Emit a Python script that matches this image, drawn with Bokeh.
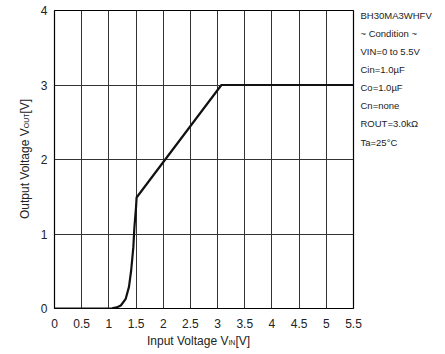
from bokeh.plotting import figure
from bokeh.models import Label, FixedTicker, Range1d, Div
from bokeh.layouts import row, column
from bokeh.embed import file_html
from bokeh.resources import INLINE

# ---- data ----
vin = [0, 1.0, 1.06, 1.10, 1.16, 1.22, 1.31, 1.37, 1.41, 1.45, 1.47, 1.50, 1.51, 3.07, 5.5]
vout = [0, 0, 0.003, 0.01, 0.02, 0.04, 0.13, 0.29, 0.51, 0.82, 1.09, 1.36, 1.49, 3.0, 3.0]
x_ticks = [0, 0.5, 1, 1.5, 2, 2.5, 3, 3.5, 4, 4.5, 5, 5.5]
x_tick_labels = ["0", "0.5", "1", "1.5", "2", "2.5", "3", "3.5", "4", "4.5", "5", "5.5"]
y_ticks = [0, 1, 2, 3, 4]
y_tick_labels = ["0", "1", "2", "3", "4"]
notes = ["BH30MA3WHFV", "~ Condition ~", "VIN=0 to 5.5V", "Cin=1.0\u00b5F",
         "Co=1.0\u00b5F", "Cn=none", "ROUT=3.0k\u03a9", "Ta=25\u00b0C"]
x_title = ("Input Voltage V", "IN", "[V]")
y_title = ("Output Voltage V", "OUT", "[V]")

FONT = "Liberation Sans"
TXT = "#222222"
YDIV_W = 36
FIG_W, FIG_H = 445 - YDIV_W, 334

p = figure(width=FIG_W, height=FIG_H, output_backend="svg", toolbar_location=None,
           x_range=Range1d(0, 5.5), y_range=Range1d(0, 4),
           min_border_left=54 - YDIV_W, min_border_right=92, min_border_top=10,
           min_border_bottom=FIG_H - 308)
p.background_fill_color = "white"
p.border_fill_color = "white"
p.outline_line_color = "black"
p.outline_line_width = 1.2

for ax in (p.xaxis[0], p.yaxis[0]):
    ax.axis_line_color = None
    ax.major_tick_line_color = None
    ax.minor_tick_line_color = None
    ax.major_tick_out = 0
    ax.major_tick_in = 0
    ax.major_label_text_font = FONT
    ax.major_label_text_font_size = "12px"
    ax.major_label_text_color = TXT

p.xaxis[0].ticker = FixedTicker(ticks=x_ticks)
p.xaxis[0].major_label_overrides = {t: s for t, s in zip(x_ticks, x_tick_labels)}
p.xaxis[0].major_label_standoff = 10
p.yaxis[0].ticker = FixedTicker(ticks=y_ticks)
p.yaxis[0].major_label_overrides = {t: s for t, s in zip(y_ticks, y_tick_labels)}
p.yaxis[0].major_label_standoff = 7

p.xgrid[0].ticker = FixedTicker(ticks=x_ticks)
p.ygrid[0].ticker = FixedTicker(ticks=y_ticks)
for g in (p.xgrid[0], p.ygrid[0]):
    g.grid_line_color = "#333333"
    g.grid_line_width = 1
    g.grid_line_alpha = 1

p.line(vin, vout, line_color="#111111", line_width=2.2)

# right-side notes (one multi-line label in the right panel)
p.add_layout(Label(x=7, y=FIG_H - 26 - 9, x_units="screen", y_units="screen",
                   text="\n".join(notes), text_font=FONT, text_font_size="9.5px",
                   text_color=TXT, text_baseline="top", text_align="left",
                   text_line_height=1.65), "right")

span = "font-size:7px;"
ydiv = Div(
    text=(f'<div style="position:absolute; left:19px; top:219px; transform:rotate(-90deg);'
          f' transform-origin:left top; white-space:nowrap; font-family:\'{FONT}\';'
          f' font-size:12px; line-height:12px; color:{TXT};">'
          f'{y_title[0]}<span style="{span}">{y_title[1]}</span>{y_title[2]}</div>'),
    width=YDIV_W, height=FIG_H, margin=0, styles={"position": "relative"})
xdiv = Div(
    text=(f'<div style="position:absolute; left:147px; top:1px; white-space:nowrap;'
          f' font-family:\'{FONT}\'; font-size:12px; line-height:12px; color:{TXT};">'
          f'{x_title[0]}<span style="{span}">{x_title[1]}</span>{x_title[2]}</div>'),
    width=445, height=354 - FIG_H, margin=0, styles={"position": "relative"})

layout = column(row(ydiv, p, spacing=0), xdiv, spacing=0)
layout.styles = {"background-color": "white"}

open("out.html", "w").write(file_html(layout, INLINE))
